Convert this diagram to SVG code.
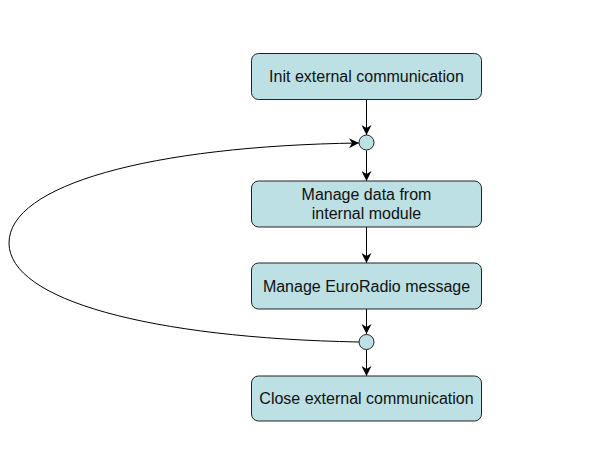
<svg xmlns="http://www.w3.org/2000/svg" width="595" height="470" viewBox="0 0 595 470">
<defs>
<style>
.box{fill:#bce0e3;stroke:#222;stroke-width:1}
.lbl{font-family:"Liberation Sans",Arial,sans-serif;font-size:16px;fill:#111;text-anchor:middle}
.edge{fill:none;stroke:#000;stroke-width:1}
</style>
<marker id="arr" viewBox="0 0 10 10" refX="10" refY="5" markerWidth="10" markerHeight="10" markerUnits="userSpaceOnUse" orient="auto">
<path d="M0,0 L10,5 L0,10 L3,5 Z" fill="#000"/>
</marker>
</defs>
<rect width="595" height="470" fill="#fff"/>
<g id="connectors">
<line class="edge" x1="366.5" y1="99.5" x2="366.5" y2="135" marker-end="url(#arr)"/>
<line class="edge" x1="366.5" y1="150.5" x2="366.5" y2="181" marker-end="url(#arr)"/>
<line class="edge" x1="366.5" y1="227" x2="366.5" y2="263" marker-end="url(#arr)"/>
<line class="edge" x1="366.5" y1="309" x2="366.5" y2="334" marker-end="url(#arr)"/>
<line class="edge" x1="366.5" y1="349.5" x2="366.5" y2="376" marker-end="url(#arr)"/>
<path class="edge" d="M359,342 C150,338 9,300 9,243 C9,185 150,146 359,143" marker-end="url(#arr)"/>
</g>
<g id="n1"><rect class="box" x="251.5" y="53.5" width="230" height="46" rx="7"/><text class="lbl" x="366.5" y="82">Init external communication</text></g>
<g id="j1"><circle class="box" cx="366.5" cy="142.5" r="7.5"/></g>
<g id="n2"><rect class="box" x="251.5" y="181" width="230" height="46" rx="7"/><text class="lbl" x="366.5" y="199.5">Manage data from</text><text class="lbl" x="366.5" y="219">internal module</text></g>
<g id="n3"><rect class="box" x="251.5" y="263" width="230" height="46" rx="7"/><text class="lbl" x="366.5" y="291.5">Manage EuroRadio message</text></g>
<g id="j2"><circle class="box" cx="366.5" cy="342" r="7.5"/></g>
<g id="n4"><rect class="box" x="251.5" y="376" width="230" height="45" rx="7"/><text class="lbl" x="366.5" y="404">Close external communication</text></g>
</svg>
